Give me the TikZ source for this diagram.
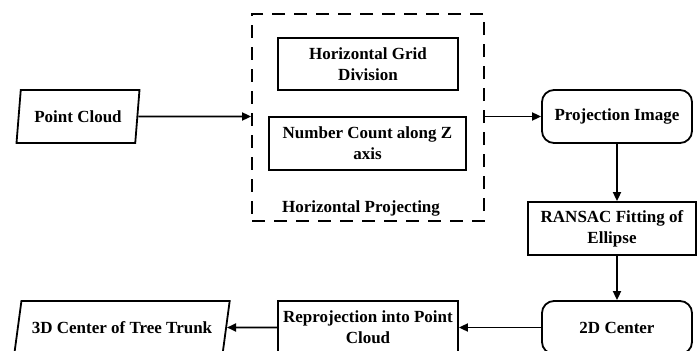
\documentclass[tikz,border=0pt]{standalone}
\usepackage{fontspec}
\setmainfont{Liberation Serif}
\usetikzlibrary{arrows.meta,shapes.geometric}
\begin{document}
\begin{tikzpicture}[x=1pt,y=-1pt,
  every node/.style={font=\bfseries\fontsize{17}{21}\selectfont, align=center, inner sep=2pt},
  box/.style={draw, line width=1.8pt, minimum height=53pt},
  rbox/.style={box, rounded corners=12pt},
  para/.style={draw, line width=1.8pt, trapezium, trapezium stretches=true, minimum height=53pt},
  conn/.style={line width=1.8pt, -{Triangle[length=9pt,width=8pt]}},
  grp/.style={draw, line width=1.8pt, dash pattern=on 13pt off 9pt, minimum width=232pt, minimum height=207pt}
]
\useasboundingbox (0,0) rectangle (697,351);
% group
\node[grp] (grp) at (368,117.5) {};
\node[box, minimum width=180pt, minimum height=52pt] (hgd) at (368,64) {Horizontal Grid\\Division};
\node[box, minimum width=197pt] (ncz) at (367.5,143.5) {Number Count along Z\\axis};
\node (glabel) at (361,208) {Horizontal Projecting};
% left input
\node[para, trapezium left angle=78, trapezium right angle=102, minimum width=124pt] (pc) at (78,116.5) {Point Cloud};
% right column
\node[rbox, minimum width=150pt] (proj) at (617,116.5) {Projection Image};
\node[box, minimum width=168pt] (ransac) at (612,228.5) {RANSAC Fitting of\\Ellipse};
\node[rbox, minimum width=150pt] (c2d) at (617,327.5) {2D Center};
\node[box, minimum width=180pt] (rep) at (368,327.5) {Reprojection into Point\\Cloud};
\node[para, trapezium left angle=68, trapezium right angle=112, minimum width=216pt] (c3d) at (122,327.5) {3D Center of Tree Trunk};
% connectors
\draw[conn] (pc) -- (pc -| grp.west);
\draw[conn] (grp.east |- proj) -- (proj);
\draw[conn] (proj.south) -- (proj.south |- ransac.north);
\draw[conn] (proj.south |- ransac.south) -- (c2d.north);
\draw[conn] (c2d) -- (rep);
\draw[conn] (rep) -- (c3d);
\end{tikzpicture}
\end{document}
